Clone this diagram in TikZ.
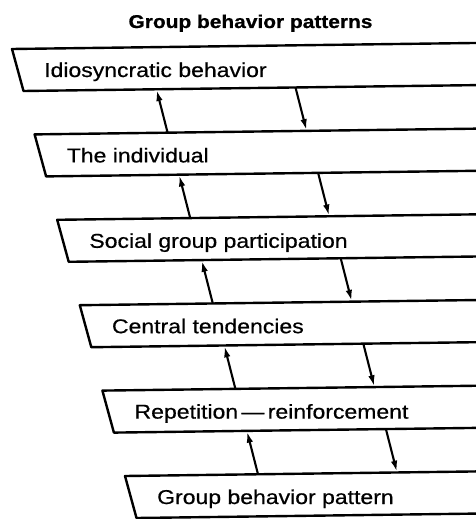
\documentclass[tikz,border=0pt]{standalone}
\usepackage{fontspec}
\setmainfont{Liberation Sans}
\newfontfamily\boxfont[FakeStretch=1.15,FakeBold=0.6]{Liberation Sans}
\newfontfamily\titlefont[FakeStretch=1.13,FakeBold=0.8]{Liberation Sans}
\usetikzlibrary{arrows.meta,calc}
\begin{document}
\begin{tikzpicture}[x=1pt,y=-1pt, line join=round,
  boxline/.style={line width=2.4pt},
  lbl/.style={font=\boxfont\fontsize{20}{24}\selectfont, anchor=base west, inner sep=0pt},
  flow/.style={line width=2.1pt, -{Latex[length=11pt,width=6.5pt]}, shorten >=0.8pt}]
\useasboundingbox (0,0) rectangle (475,519);
\node[font=\titlefont\bfseries\fontsize{18.5}{22}\selectfont, anchor=base, inner sep=0pt] (title) at (250.5,28) {Group behavior patterns};
\def\sl{0.013}
\foreach \i/\t in {0/Idiosyncratic behavior, 1/The individual, 2/Social group participation, 3/Central tendencies, 4/Repetition\,—\,reinforcement, 5/Group behavior pattern} {
  \coordinate (tl\i) at ({12+22.6*\i},{49+85.4*\i});
  \coordinate (bl\i) at ($(tl\i)+(11.5,42)$);
  \coordinate (tr\i) at ($(tl\i)+(490,{-490*\sl})$);
  \coordinate (br\i) at ($(bl\i)+(490,{-490*\sl})$);
  \draw[boxline] (tr\i) -- (tl\i) -- (bl\i) -- (br\i);
  \node[lbl] (t\i) at ($(tl\i)+(32,28)$) {\t};
}
\foreach \i in {0,...,4} {
  \pgfmathtruncatemacro{\j}{\i+1}
  \coordinate (ua\i) at ($(tl\j)+(133,{-133*\sl})$);
  \coordinate (ub\i) at ($(bl\i)+(133,{-133*\sl})$);
  \coordinate (da\i) at ($(bl\i)+(272,{-272*\sl})$);
  \coordinate (db\i) at ($(tl\j)+(272,{-272*\sl})$);
  \draw[flow] (ua\i) -- (ub\i);
  \draw[flow] (da\i) -- (db\i);
}
\end{tikzpicture}
\end{document}
